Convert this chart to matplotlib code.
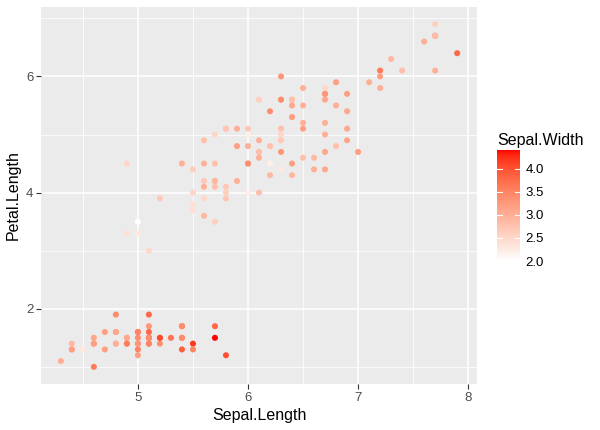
import numpy as np
import matplotlib
matplotlib.use("Agg")
import matplotlib.pyplot as plt
from matplotlib.colors import ListedColormap, Normalize

plt.rcParams['font.family'] = ['Liberation Sans', 'DejaVu Sans']

sepal_length = [5.1,4.9,4.7,4.6,5.0,5.4,4.6,5.0,4.4,4.9,5.4,4.8,4.8,4.3,5.8,5.7,5.4,5.1,5.7,5.1,
                5.4,5.1,4.6,5.1,4.8,5.0,5.0,5.2,5.2,4.7,4.8,5.4,5.2,5.5,4.9,5.0,5.5,4.9,4.4,5.1,
                5.0,4.5,4.4,5.0,5.1,4.8,5.1,4.6,5.3,5.0,
                7.0,6.4,6.9,5.5,6.5,5.7,6.3,4.9,6.6,5.2,5.0,5.9,6.0,6.1,5.6,6.7,5.6,5.8,6.2,5.6,
                5.9,6.1,6.3,6.1,6.4,6.6,6.8,6.7,6.0,5.7,5.5,5.5,5.8,6.0,5.4,6.0,6.7,6.3,5.6,5.5,
                5.5,6.1,5.8,5.0,5.6,5.7,5.7,6.2,5.1,5.7,
                6.3,5.8,7.1,6.3,6.5,7.6,4.9,7.3,6.7,7.2,6.5,6.4,6.8,5.7,5.8,6.4,6.5,7.7,7.7,6.0,
                6.9,5.6,7.7,6.3,6.7,7.2,6.2,6.1,6.4,7.2,7.4,7.9,6.4,6.3,6.1,7.7,6.3,6.4,6.0,6.9,
                6.7,6.9,5.8,6.8,6.7,6.7,6.3,6.5,6.2,5.9]
sepal_width = [3.5,3.0,3.2,3.1,3.6,3.9,3.4,3.4,2.9,3.1,3.7,3.4,3.0,3.0,4.0,4.4,3.9,3.5,3.8,3.8,
               3.4,3.7,3.6,3.3,3.4,3.0,3.4,3.5,3.4,3.2,3.1,3.4,4.1,4.2,3.1,3.2,3.5,3.6,3.0,3.4,
               3.5,2.3,3.2,3.5,3.8,3.0,3.8,3.2,3.7,3.3,
               3.2,3.2,3.1,2.3,2.8,2.8,3.3,2.4,2.9,2.7,2.0,3.0,2.2,2.9,2.9,3.1,3.0,2.7,2.2,2.5,
               3.2,2.8,2.5,2.8,2.9,3.0,2.8,3.0,2.9,2.6,2.4,2.4,2.7,2.7,3.0,3.4,3.1,2.3,3.0,2.5,
               2.6,3.0,2.6,2.3,2.7,3.0,2.9,2.9,2.5,2.8,
               3.3,2.7,3.0,2.9,3.0,3.0,2.5,2.9,2.5,3.6,3.2,2.7,3.0,2.5,2.8,3.2,3.0,3.8,2.6,2.2,
               3.2,2.8,2.8,2.7,3.3,3.2,2.8,3.0,2.8,3.0,2.8,3.8,2.8,2.8,2.6,3.0,3.4,3.1,3.0,3.1,
               3.1,3.1,2.7,3.2,3.3,3.0,2.5,3.0,3.4,3.0]
petal_length = [1.4,1.4,1.3,1.5,1.4,1.7,1.4,1.5,1.4,1.5,1.5,1.6,1.4,1.1,1.2,1.5,1.3,1.4,1.7,1.5,
                1.7,1.5,1.0,1.7,1.9,1.6,1.6,1.5,1.4,1.6,1.6,1.5,1.5,1.4,1.5,1.2,1.3,1.4,1.3,1.5,
                1.3,1.3,1.3,1.6,1.9,1.4,1.6,1.4,1.5,1.4,
                4.7,4.5,4.9,4.0,4.6,4.5,4.7,3.3,4.6,3.9,3.5,4.2,4.0,4.7,3.6,4.4,4.5,4.1,4.5,3.9,
                4.8,4.0,4.9,4.7,4.3,4.4,4.8,5.0,4.5,3.5,3.8,3.7,3.9,5.1,4.5,4.5,4.7,4.4,4.1,4.0,
                4.4,4.6,4.0,3.3,4.2,4.2,4.2,4.3,3.0,4.1,
                6.0,5.1,5.9,5.6,5.8,6.6,4.5,6.3,5.8,6.1,5.1,5.3,5.5,5.0,5.1,5.3,5.5,6.7,6.9,5.0,
                5.7,4.9,6.7,4.9,5.7,6.0,4.8,4.9,5.6,5.8,6.1,6.4,5.6,5.1,5.6,6.1,5.6,5.5,4.8,5.4,
                5.6,5.1,5.1,5.9,5.7,5.2,5.0,5.2,5.4,5.1]

x_ticks = [5, 6, 7, 8]
y_ticks = [2, 4, 6]
cbar_ticks = [2.0, 2.5, 3.0, 3.5, 4.0]

# Lab interpolation white -> red (like ggplot scale_colour_gradient)
def srgb_to_lab(rgb):
    rgb = np.asarray(rgb, float)
    lin = np.where(rgb <= 0.04045, rgb / 12.92, ((rgb + 0.055) / 1.055) ** 2.4)
    M = np.array([[0.4124, 0.3576, 0.1805], [0.2126, 0.7152, 0.0722], [0.0193, 0.1192, 0.9505]])
    xyz = M @ lin
    wp = np.array([0.95047, 1.0, 1.08883])
    t = xyz / wp
    f = np.where(t > (6/29)**3, np.cbrt(t), t / (3*(6/29)**2) + 4/29)
    return np.array([116*f[1]-16, 500*(f[0]-f[1]), 200*(f[1]-f[2])])

def lab_to_srgb(lab):
    L, a, b = lab
    fy = (L + 16) / 116
    fx = fy + a / 500
    fz = fy - b / 200
    def finv(f):
        return np.where(f > 6/29, f**3, 3*(6/29)**2*(f - 4/29))
    wp = np.array([0.95047, 1.0, 1.08883])
    xyz = np.array([finv(fx), finv(fy), finv(fz)]) * wp
    Minv = np.array([[3.2406, -1.5372, -0.4986], [-0.9689, 1.8758, 0.0415], [0.0557, -0.2040, 1.0570]])
    lin = Minv @ xyz
    lin = np.clip(lin, 0, 1)
    rgb = np.where(lin <= 0.0031308, 12.92*lin, 1.055*lin**(1/2.4) - 0.055)
    return np.clip(rgb, 0, 1)

lo = srgb_to_lab([1, 1, 1])
hi = srgb_to_lab([1, 0, 0])
cols = [lab_to_srgb(lo + (hi - lo) * t) for t in np.linspace(0, 1, 256)]
cmap = ListedColormap(cols)
norm = Normalize(vmin=min(sepal_width), vmax=max(sepal_width))

W, H = 600, 430
fig = plt.figure(figsize=(6, 4.3), dpi=100)
ax = fig.add_axes([41/W, 1 - 384/H, (477-41)/W, (384-7)/H])
ax.set_facecolor("#EBEBEB")
for s in ax.spines.values():
    s.set_visible(False)

xr = (min(sepal_length), max(sepal_length))
yr = (min(petal_length), max(petal_length))
ex = (xr[1]-xr[0])*0.05
ey = (yr[1]-yr[0])*0.05
ax.set_xlim(xr[0]-ex, xr[1]+ex)
ax.set_ylim(yr[0]-ey, yr[1]+ey)

ax.set_xticks(x_ticks)
ax.set_yticks(y_ticks)
ax.set_xticks([4.5, 5.5, 6.5, 7.5], minor=True)
ax.set_yticks([1, 3, 5, 7], minor=True)
ax.grid(True, which="major", color="white", lw=1.1)
ax.grid(True, which="minor", color="white", lw=0.55)
ax.set_axisbelow(True)
ax.tick_params(which="major", length=3.5, width=0.8, color="#333333",
               labelsize=9.5, labelcolor="#4D4D4D", pad=2)
ax.tick_params(which="minor", length=0)

ax.scatter(sepal_length, petal_length, c=sepal_width, cmap=cmap, norm=norm,
           s=19, linewidths=0, zorder=3)

ax.set_xlabel("Sepal.Length", fontsize=11.5, color="black", labelpad=3)
ax.set_ylabel("Petal.Length", fontsize=11.5, color="black", labelpad=4)

# colorbar
cax = fig.add_axes([497/W, 1 - 261/H, 23/W, (261-150)/H])
grad = np.linspace(norm.vmin, norm.vmax, 300).reshape(-1, 1)
cax.imshow(grad, aspect="auto", cmap=cmap, norm=norm, origin="lower",
           extent=[0, 1, norm.vmin, norm.vmax])
cax.set_xlim(0, 1)
cax.set_ylim(norm.vmin, norm.vmax)
for s in cax.spines.values():
    s.set_visible(False)
cax.set_xticks([])
cax.yaxis.tick_right()
cax.set_yticks(cbar_ticks)
cax.set_yticklabels([f"{t:.1f}" for t in cbar_ticks])
cax.tick_params(axis="y", length=0, labelsize=9.5, labelcolor="black", pad=4)
for t in cbar_ticks:
    cax.plot([0, 0.2], [t, t], color="white", lw=0.8)
    cax.plot([0.8, 1], [t, t], color="white", lw=0.8)
fig.text(497/W, 1 - 140/H, "Sepal.Width", fontsize=11.5, ha="left", va="center")

fig.savefig("out.png", dpi=100)
